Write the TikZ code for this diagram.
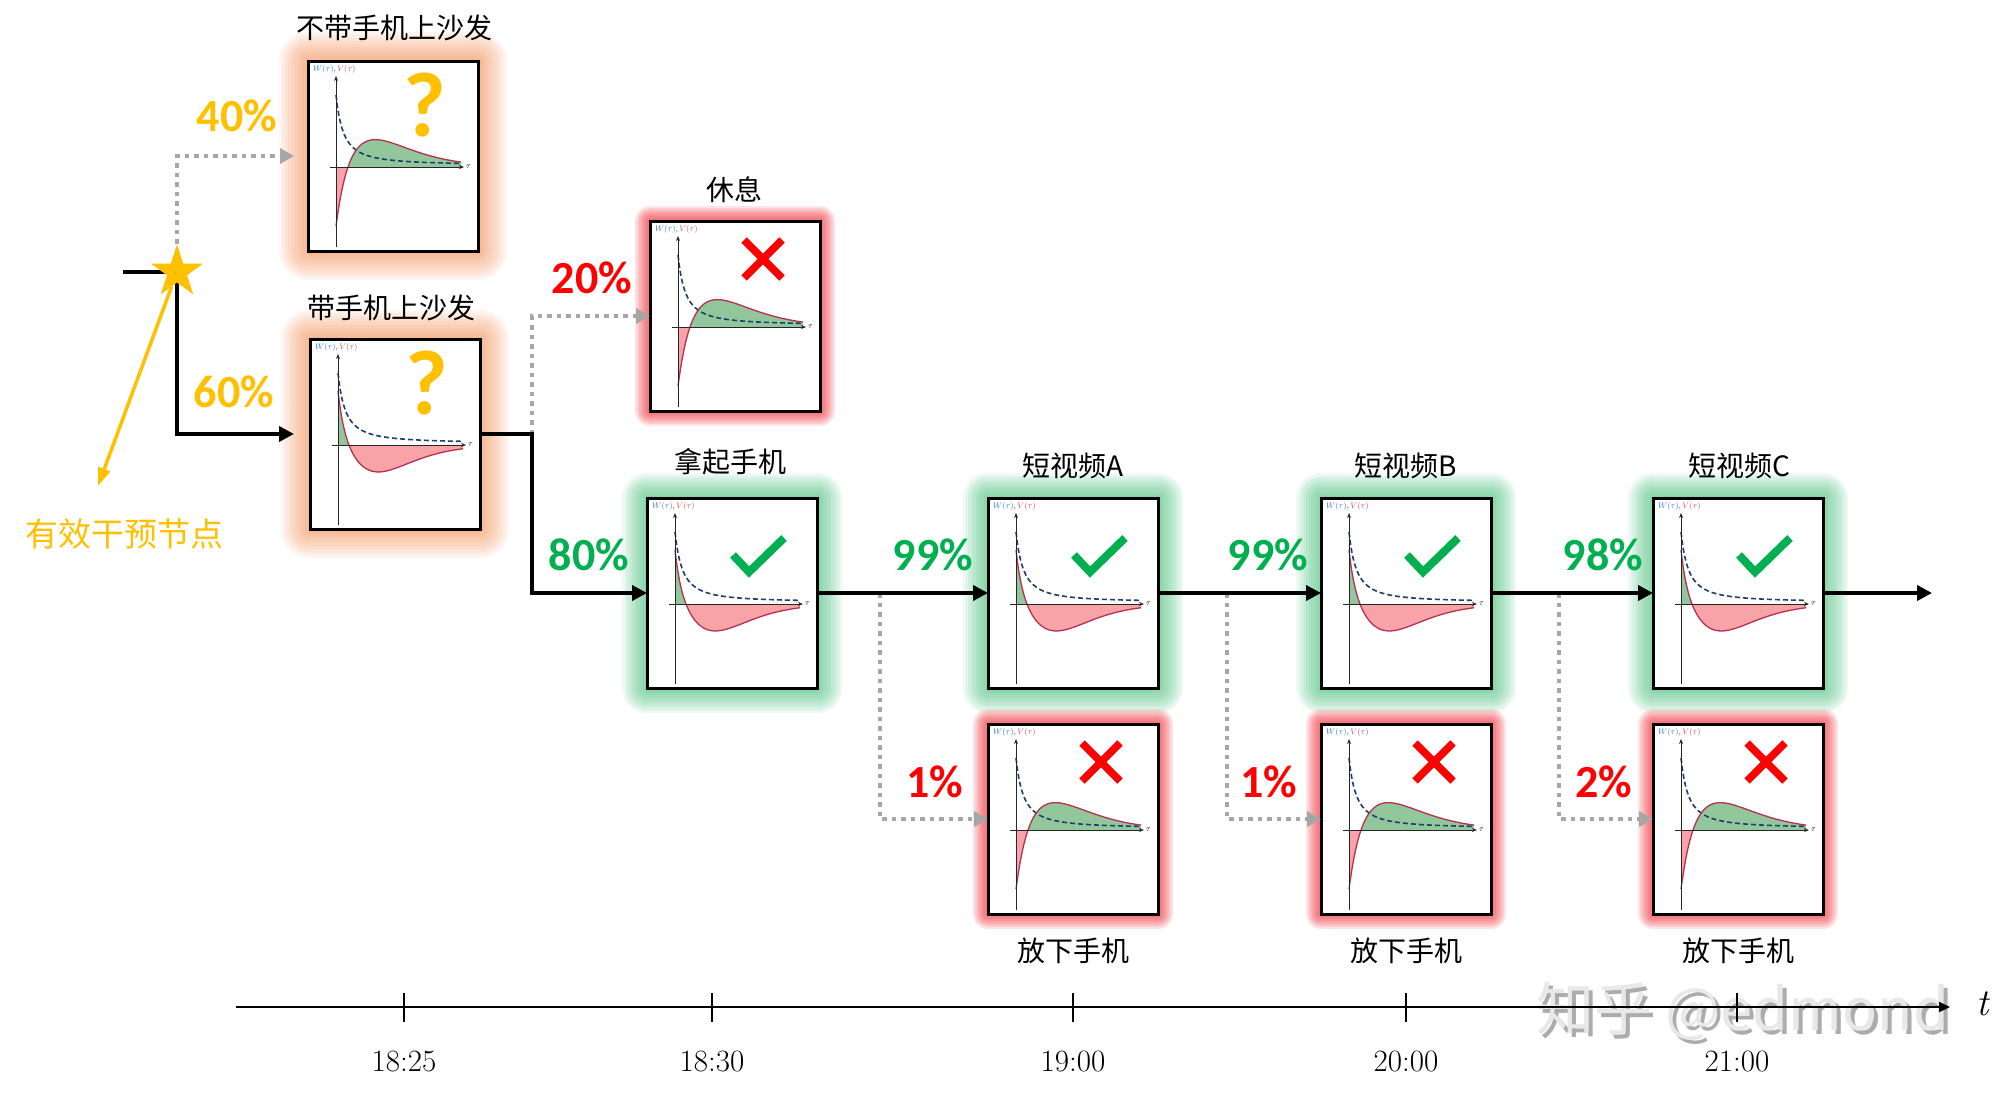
\documentclass[tikz,border=0pt]{standalone}
\usepackage{fontspec}
\newfontfamily\cjk{Noto Sans CJK SC}
\newfontfamily\calib{Carlito}
\usetikzlibrary{arrows.meta,shapes.geometric}
\definecolor{cY}{HTML}{FFC000}
\definecolor{cG}{HTML}{00B050}
\definecolor{cR}{HTML}{FF0000}
\definecolor{cGray}{HTML}{A6A6A6}
\definecolor{vline}{HTML}{B8304F}
\definecolor{wline}{HTML}{1F3D6E}
\definecolor{fillR}{HTML}{F7A3A8}
\definecolor{fillG}{HTML}{92C79B}
\definecolor{glO}{HTML}{F5894A}
\definecolor{glG}{HTML}{2DBB6A}
\definecolor{glR}{HTML}{F22A35}
\definecolor{lblW}{HTML}{2E75B6}
\definecolor{lblV}{HTML}{C8415F}
\newcommand\plotaxes{%
  \draw[black!85,line width=0.9pt,-{Stealth[length=5pt,width=4pt]}] (28,186) -- (28,15);
  \draw[black!85,line width=0.9pt,-{Stealth[length=5pt,width=4pt]}] (22,106) -- (156,106);
  \node[anchor=west,inner sep=0pt,font=\fontsize{8}{8}\selectfont] (-lab) at (5,8) {$\color{lblW}W(\tau)$,\,$\color{lblV}V(\tau)$};
  \node[anchor=west,inner sep=0pt,font=\fontsize{8}{8}\selectfont] (-tau) at (158,106) {$\tau$};
}
\tikzset{
  declare function={
    fg(\u)=54*exp(-\u/6)-27*(\u/40)*(\u/40)*exp(2*(1-\u/40));
    fb(\u)=-59*exp(-\u/8.45)+28*(\u/37)*sqrt(\u/37)*exp(1.5*(1-\u/37));
    fw(\u)=2+70/((1+\u/11.2)*sqrt(1+\u/11.2));
  },
  gl/.style n args={3}{preaction={draw=#1,draw opacity=#2,line width=#3,line join=round}},
  glowO/.style={gl={glO}{.08}{58pt},gl={glO}{.08}{52pt},gl={glO}{.08}{46pt},
    gl={glO}{.08}{40pt},gl={glO}{.08}{34pt},gl={glO}{.08}{28pt},gl={glO}{.08}{22pt},
    gl={glO}{.08}{16pt},gl={glO}{.08}{10pt},gl={glO}{.08}{5pt}},
  glowG/.style={gl={glG}{.08}{50pt},gl={glG}{.08}{45pt},gl={glG}{.08}{40pt},
    gl={glG}{.08}{35pt},gl={glG}{.08}{30pt},gl={glG}{.08}{25pt},gl={glG}{.08}{20pt},
    gl={glG}{.08}{14pt},gl={glG}{.08}{9pt},gl={glG}{.08}{5pt}},
  glowR/.style={gl={glR}{.13}{30pt},gl={glR}{.13}{26pt},gl={glR}{.13}{22pt},
    gl={glR}{.13}{18pt},gl={glR}{.13}{14pt},gl={glR}{.13}{10pt},gl={glR}{.13}{6pt}},
  box/.style={draw=black,line width=3pt,fill=white,minimum width=170pt,
    minimum height=190pt,inner sep=0pt,outer sep=0pt},
  ttl/.style={font=\cjk\fontsize{28}{30}\selectfont,inner sep=0pt},
  pct/.style={font=\calib\bfseries\fontsize{46}{48}\selectfont,inner sep=0pt},
  mainline/.style={line width=4.5pt,line join=miter,-{Triangle[length=15pt,width=15pt]}},
  dotline/.style={cGray,line width=4pt,dash pattern=on 4.5pt off 5pt,
    -{Triangle[length=14pt,width=15pt]}},
  yline/.style={cY,line width=3.5pt,-{Triangle[length=18pt,width=12pt]}},
  starnode/.style={star,star points=5,star point ratio=2.618,minimum size=55pt,
    fill=cY,draw=none,inner sep=0pt},
  note/.style={font=\cjk\fontsize{33}{34}\selectfont,text=cY,inner sep=0pt},
  tlab/.style={font=\fontsize{31}{32}\selectfont,inner sep=0pt},
  wm/.style={font=\cjk\fontsize{58}{60}\selectfont,inner sep=0pt},
  goodplot/.pic={
    \begin{scope}
      \clip (20,15) rectangle (165,106);
      \fill[fillG] (28,106) -- plot[domain=0:125,samples=100] ({28+\x},{106-fg(\x)}) -- (153,106) -- cycle;
    \end{scope}
    \begin{scope}
      \clip (20,106) rectangle (165,188);
      \fill[fillR] (28,106) -- plot[domain=0:125,samples=100] ({28+\x},{106-fg(\x)}) -- (153,106) -- cycle;
    \end{scope}
    \draw[wline,line width=1.6pt,dash pattern=on 5pt off 3pt] plot[domain=0:125,samples=90] ({28+\x},{106-fw(\x)});
    \draw[vline,line width=1.3pt] plot[domain=0:125,samples=100] ({28+\x},{106-fg(\x)});
    \plotaxes
  },
  badplot/.pic={
    \begin{scope}
      \clip (20,15) rectangle (165,106);
      \fill[fillG] (28,106) -- plot[domain=0:125,samples=100] ({28+\x},{106-fb(\x)}) -- (153,106) -- cycle;
    \end{scope}
    \begin{scope}
      \clip (20,106) rectangle (165,188);
      \fill[fillR] (28,106) -- plot[domain=0:125,samples=100] ({28+\x},{106-fb(\x)}) -- (153,106) -- cycle;
    \end{scope}
    \draw[wline,line width=1.6pt,dash pattern=on 5pt off 3pt] plot[domain=0:125,samples=90] ({28+\x},{106-fw(\x)});
    \draw[vline,line width=1.3pt] plot[domain=0:125,samples=100] ({28+\x},{106-fb(\x)});
    \plotaxes
  },
  qmark/.pic={\node[font=\calib\bfseries\fontsize{92}{92}\selectfont,text=cY,inner sep=0pt] (-q) at (117,44) {?};},
  crossmark/.pic={\draw[cR,line width=7.5pt] (94,19) -- (132,57) (94,57) -- (132,19);},
  checkmark/.pic={\draw[cG,line width=8pt,line join=miter] (86,57) -- (102,74) -- (137,40);}
}
\begin{document}
\begin{tikzpicture}[x=1pt,y=-1pt]
\useasboundingbox[fill=white] (0,0) rectangle (2012,1096);

% boxes
\node[box,glowO] (b1) at (393,156) {};
\node[box,glowO] (b2) at (395,434) {};
\node[box,glowR] (rest) at (735,316) {};
\node[box,glowG] (pick) at (732,593) {};
\node[box,glowG] (vA) at (1073,593) {};
\node[box,glowR] (dA) at (1073,819) {};
\node[box,glowG] (vB) at (1406,593) {};
\node[box,glowR] (dB) at (1406,819) {};
\node[box,glowG] (vC) at (1738,593) {};
\node[box,glowR] (dC) at (1738,819) {};

% plots
\pic (pb1) at (b1.north west) {badplot};
\pic (qb1) at (b1.north west) {qmark};
\pic (pb2) at (b2.north west) {goodplot};
\pic (qb2) at (b2.north west) {qmark};
\pic (prest) at (rest.north west) {badplot};
\pic (xrest) at (rest.north west) {crossmark};
\pic (ppick) at (pick.north west) {goodplot};
\pic (cpick) at (pick.north west) {checkmark};
\pic (pvA) at (vA.north west) {goodplot};
\pic (cvA) at (vA.north west) {checkmark};
\pic (pvB) at (vB.north west) {goodplot};
\pic (cvB) at (vB.north west) {checkmark};
\pic (pvC) at (vC.north west) {goodplot};
\pic (cvC) at (vC.north west) {checkmark};
\pic (pdA) at (dA.north west) {badplot};
\pic (xdA) at (dA.north west) {crossmark};
\pic (pdB) at (dB.north west) {badplot};
\pic (xdB) at (dB.north west) {crossmark};
\pic (pdC) at (dC.north west) {badplot};
\pic (xdC) at (dC.north west) {crossmark};

% titles
\node[ttl] (t1) at (394,28) {不带手机上沙发};
\node[ttl] (t2) at (391,308) {带手机上沙发};
\node[ttl] (t3) at (734,190) {休息};
\node[ttl] (t4) at (730,462) {拿起手机};
\node[ttl] (t5) at (1073,466) {短视频A};
\node[ttl] (t6) at (1406,466) {短视频B};
\node[ttl] (t7) at (1739,466) {短视频C};
\node[ttl] (t8) at (1073,951) {放下手机};
\node[ttl] (t9) at (1406,951) {放下手机};
\node[ttl] (t10) at (1738,951) {放下手机};

% percentages
\node[pct,text=cY] (p40) at (237,116) {40\%};
\node[pct,text=cY] (p60) at (234,392) {60\%};
\node[pct,text=cR] (p20) at (592,278) {20\%};
\node[pct,text=cG] (p80) at (589,555) {80\%};
\node[pct,text=cG] (p99a) at (933,555) {99\%};
\node[pct,text=cG] (p99b) at (1268,555) {99\%};
\node[pct,text=cG] (p98) at (1603,555) {98\%};
\node[pct,text=cR] (p1a) at (935,782) {1\%};
\node[pct,text=cR] (p1b) at (1269,782) {1\%};
\node[pct,text=cR] (p2c) at (1604,782) {2\%};

% connectors
\coordinate (sp) at (177,272);
\coordinate (st) at (123,272);
\coordinate (j1) at (532,434);
\coordinate (j2) at (880,593);
\coordinate (j3) at (1227,593);
\coordinate (j4) at (1559,593);
\coordinate (fin) at (1932,593);
\coordinate (yt) at (98,486);

\draw[dotline,shorten >=14pt] (sp) |- (b1.west);
\draw[mainline,shorten >=16pt] (st) -- (sp) |- (b2.west);
\draw[dotline] (j1) |- (rest.west);
\draw[mainline] (b2.east) -- (j1) |- (pick.west);
\draw[dotline] (j2) |- (dA.west);
\draw[dotline] (j3) |- (dB.west);
\draw[dotline] (j4) |- (dC.west);
\draw[mainline] (pick.east) -- (vA.west);
\draw[mainline] (vA.east) -- (vB.west);
\draw[mainline] (vB.east) -- (vC.west);
\draw[mainline] (vC.east) -- (fin);

% intervention point
\node[starnode] (star) at (sp) {};
\draw[yline] (star) -- (yt);
\node[note] (note) at (124,534) {有效干预节点};

% watermark
\node[wm,text=gray!65] (wm1) at (1747,1015) {知乎 @edmond};
\node[wm,text=gray!18] (wm2) at (1743,1011) {知乎 @edmond};

% timeline
\coordinate (tl0) at (236,1007);
\coordinate (tl1) at (1950,1007);
\draw[line width=2pt,-{Triangle[length=11pt,width=10pt]}] (tl0) -- (tl1);
\node[font=\fontsize{38}{40}\selectfont\itshape,inner sep=0pt] (tt) at (1983,1004) {t};
\foreach \xx/\lab [count=\i] in {404/18:25,712/18:30,1073/19:00,1406/20:00,1737/21:00}{
  \draw[line width=1.5pt] (\xx,993) -- (\xx,1022);
  \node[tlab] (tm\i) at (\xx,1061) {\lab};
}
\end{tikzpicture}
\end{document}
